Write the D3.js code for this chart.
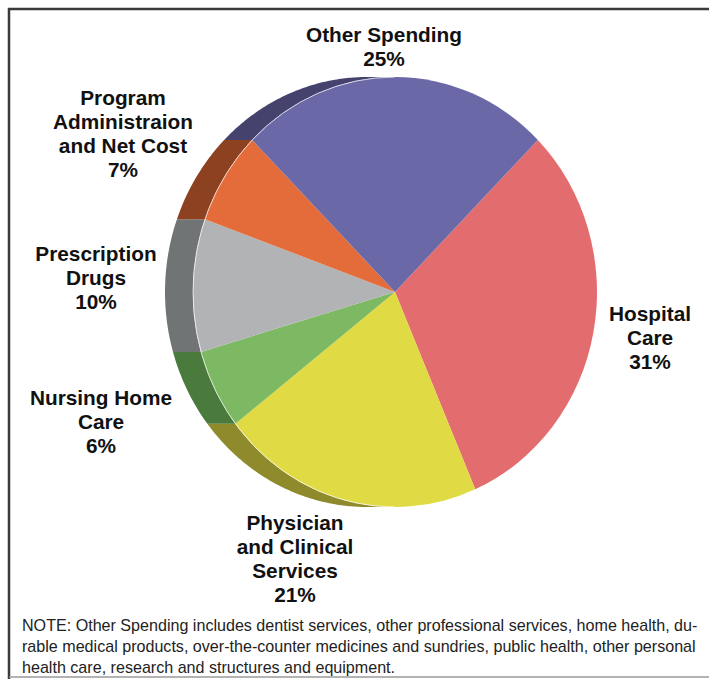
<!DOCTYPE html>
<html>
<head>
<meta charset="utf-8">
<script src="https://cdn.jsdelivr.net/npm/d3@7"></script>
<style>
  html, body { margin: 0; padding: 0; background: #fff; }
  svg { display: block; }
  .lbl { font-family: "Liberation Sans", Arial, Helvetica, sans-serif; font-weight: bold; font-size: 20.8px; fill: #111; }
  .note { font-family: "Liberation Sans", Arial, Helvetica, sans-serif; font-size: 16.1px; fill: #222; }
</style>
</head>
<body>
<script>
// Spending categories, in the order they are laid around the pie (clockwise)
const categories = [
  "Hospital Care",
  "Physician and Clinical Services",
  "Nursing Home Care",
  "Prescription Drugs",
  "Program Administraion and Net Cost",
  "Other Spending"
];
const shares = [31, 21, 6, 10, 7, 25];

// How each category name is broken over lines in its label
const labelLines = [
  ["Hospital", "Care"],
  ["Physician", "and Clinical", "Services"],
  ["Nursing Home", "Care"],
  ["Prescription", "Drugs"],
  ["Program", "Administraion", "and Net Cost"],
  ["Other Spending"]
];

const faceColors = ["#e36c6e", "#e0da44", "#7db863", "#b2b3b4", "#e36c3a", "#6b68a8"];
const sideColors = ["#9c4446", "#8f8a2c", "#4a7a3c", "#717475", "#8c4220", "#45436e"];

const noteLines = [
  "NOTE: Other Spending includes dentist services, other professional services, home health, du-",
  "rable medical products, over-the-counter medicines and sundries, public health, other personal",
  "health care, research and structures and equipment."
];

// ---- layout ----
const W = 709, H = 679;
const cx = 395, cy = 292;      // pie centre
const rx = 202, ry = 215;      // face radii (slightly tall ellipse)
const depth = 28;              // horizontal thickness of the pie's edge
const startDeg = 45;

// label anchor (centre x, first baseline y) for each category
const labelPos = [
  [650, 321], [295, 530], [101, 405], [96, 261], [123, 105], [384, 42]
];
const lineH = 24;

const svg = d3.select("body").append("svg")
  .attr("width", W).attr("height", H);

// frame
svg.append("line").attr("x1", 8).attr("x2", W).attr("y1", 9).attr("y2", 9)
  .attr("stroke", "#3a3a3a").attr("stroke-width", 2.5);
svg.append("line").attr("x1", 9).attr("x2", 9).attr("y1", 8).attr("y2", H)
  .attr("stroke", "#3a3a3a").attr("stroke-width", 2.5);
svg.append("line").attr("x1", 9).attr("x2", W).attr("y1", 677).attr("y2", 677)
  .attr("stroke", "#9a9a9a").attr("stroke-width", 1.5);

const data = categories.map((c, i) => ({ name: c, value: shares[i], i }));

const pie = d3.pie().sort(null).value(d => d.value)
  .startAngle(startDeg * Math.PI / 180)
  .endAngle(startDeg * Math.PI / 180 + 2 * Math.PI);
const arcs = pie(data);

// work in a circle of radius ry, then squash horizontally into the ellipse
const g = svg.append("g")
  .attr("transform", `translate(${cx},${cy}) scale(${rx / ry},1)`);
const off = depth * ry / rx;

// the visible edge band lives on the left half (angles PI..2PI)
const line = d3.line();
function sidePath(a0, a1) {
  const lo = Math.PI, hi = 2 * Math.PI;
  const segs = [];
  [[a0, a1], [a0 + 2 * Math.PI, a1 + 2 * Math.PI], [a0 - 2 * Math.PI, a1 - 2 * Math.PI]].forEach(([p, q]) => {
    const u = Math.max(p, lo), v = Math.min(q, hi);
    if (v > u) segs.push([u, v]);
  });
  return segs.map(([u, v]) => {
    const n = Math.max(2, Math.ceil((v - u) / 0.01));
    const ts = d3.range(n + 1).map(k => u + (v - u) * k / n);
    const front = ts.map(t => [ry * Math.sin(t), -ry * Math.cos(t)]);
    const back = ts.slice().reverse().map(t => [ry * Math.sin(t) - off, -ry * Math.cos(t)]);
    return line(front.concat(back)) + "Z";
  }).join("");
}

g.selectAll("path.side").data(arcs).join("path")
  .attr("class", "side")
  .attr("d", d => sidePath(d.startAngle, d.endAngle))
  .attr("fill", d => sideColors[d.data.i]);

const arc = d3.arc().innerRadius(0).outerRadius(ry);
g.selectAll("path.face").data(arcs).join("path")
  .attr("class", "face")
  .attr("d", arc)
  .attr("fill", d => faceColors[d.data.i]);

// faint highlight where the face meets the edge
g.append("path")
  .attr("d", d3.arc().innerRadius(ry).outerRadius(ry).startAngle(Math.PI).endAngle(Math.PI * 2)())
  .attr("fill", "none")
  .attr("stroke", "rgba(255,255,255,0.45)")
  .attr("stroke-width", 0.9);

// category labels
data.forEach((d, i) => {
  const lines = labelLines[i].concat([shares[i] + "%"]);
  const t = svg.append("text").attr("class", "lbl")
    .attr("text-anchor", "middle");
  lines.forEach((s, k) => {
    t.append("tspan").attr("x", labelPos[i][0]).attr("y", labelPos[i][1] + k * lineH).text(s);
  });
});

// footnote
const note = svg.append("text").attr("class", "note");
noteLines.forEach((s, k) => {
  note.append("tspan").attr("x", 22).attr("y", 631 + k * 21).text(s);
});
</script>
</body>
</html>
